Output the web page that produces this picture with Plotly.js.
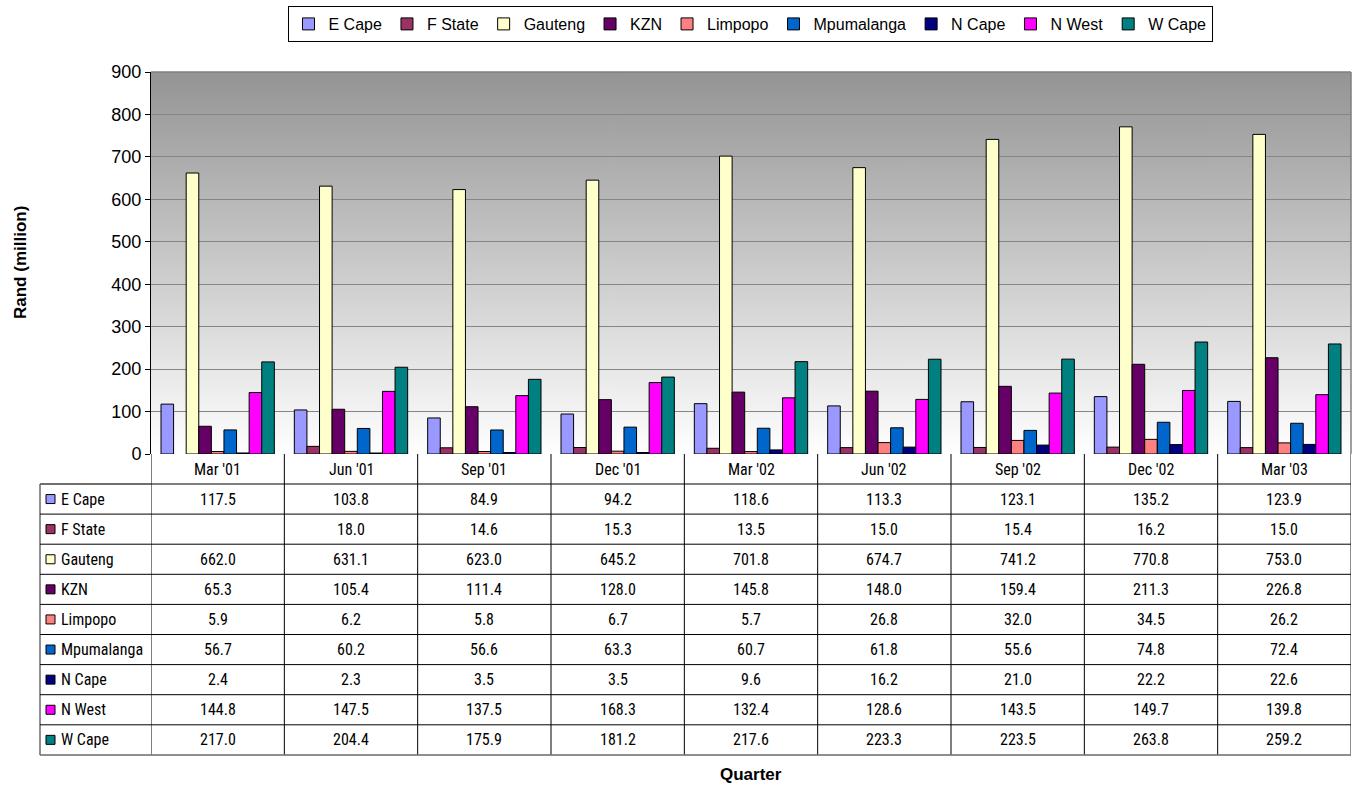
<!DOCTYPE html>
<html>
<head>
<meta charset="utf-8">
<script src="https://cdn.plot.ly/plotly-3.0.1.min.js"></script>
<style>html,body{margin:0;padding:0;background:#fff;}#chart{width:1356px;height:785px;}</style>
</head>
<body>
<div id="chart"></div>
<script>
const quarters = ["Mar '01","Jun '01","Sep '01","Dec '01","Mar '02","Jun '02","Sep '02","Dec '02","Mar '03"];
const provinces = ["E Cape","F State","Gauteng","KZN","Limpopo","Mpumalanga","N Cape","N West","W Cape"];
const eCape      = [117.5,103.8,84.9,94.2,118.6,113.3,123.1,135.2,123.9];
const fState     = [null,18.0,14.6,15.3,13.5,15.0,15.4,16.2,15.0];
const gauteng    = [662.0,631.1,623.0,645.2,701.8,674.7,741.2,770.8,753.0];
const kzn        = [65.3,105.4,111.4,128.0,145.8,148.0,159.4,211.3,226.8];
const limpopo    = [5.9,6.2,5.8,6.7,5.7,26.8,32.0,34.5,26.2];
const mpumalanga = [56.7,60.2,56.6,63.3,60.7,61.8,55.6,74.8,72.4];
const nCape      = [2.4,2.3,3.5,3.5,9.6,16.2,21.0,22.2,22.6];
const nWest      = [144.8,147.5,137.5,168.3,132.4,128.6,143.5,149.7,139.8];
const wCape      = [217.0,204.4,175.9,181.2,217.6,223.3,223.5,263.8,259.2];
const yTicks     = [0,100,200,300,400,500,600,700,800,900];

const series = [eCape,fState,gauteng,kzn,limpopo,mpumalanga,nCape,nWest,wCape];
const colors = ['#9999FF','#993366','#FFFFCC','#660066','#FF8080','#0066CC','#000080','#FF00FF','#008080'];

const W = 1356, H = 785, ML = 151, MR = 5, MT = 72, MB = 331;
const PW = W - ML - MR, PH = H - MT - MB;
const px2x = px => (px - ML) / PW;
const py2y = py => (H - MB - py) / PH;

const FONT = 'Liberation Sans, Arial, sans-serif';
const NARROW = 'Roboto Condensed, Liberation Sans, Arial, sans-serif';
const TSIZE = 16;

const traces = provinces.map((p, i) => ({
  type: 'bar', name: p, x: quarters, y: series[i],
  marker: {color: colors[i], line: {color: '#000', width: 1}},
  hoverinfo: 'x+y+name'
}));

// gradient background image
const cv = document.createElement('canvas');
cv.width = 4; cv.height = 400;
const ctx = cv.getContext('2d');
const g = ctx.createLinearGradient(0, 0, 0, 400);
g.addColorStop(0, '#949494');
g.addColorStop(1, '#ffffff');
ctx.fillStyle = g; ctx.fillRect(0, 0, 4, 400);

// table geometry
const headTop = 454, tableTop = 484, rowH = 30.1, nRows = provinces.length;
const tableBottom = tableTop + rowH * nRows;
const leftCol = 40;

const shapes = [];
const annotations = [];

// plot border (top & right gray)
shapes.push({type:'line', xref:'paper', yref:'paper', x0:0, x1:1, y0:1, y1:1, line:{color:'#7f7f7f', width:1.5}});
shapes.push({type:'line', xref:'paper', yref:'paper', x0:1, x1:1, y0:0, y1:1, line:{color:'#7f7f7f', width:1.5}});

// vertical table lines at category boundaries
for (let i = 0; i <= quarters.length; i++) {
  const outer = (i === quarters.length);
  shapes.push({type:'line', xref:'x', yref:'paper', x0:i-0.5, x1:i-0.5,
    y0: py2y(headTop), y1: py2y(tableBottom),
    line:{color: outer ? '#6a6a6a' : '#000', width: outer ? 1.5 : 1}});
}
// left column outer line
shapes.push({type:'line', xref:'paper', yref:'paper', x0:px2x(leftCol), x1:px2x(leftCol),
  y0:py2y(tableTop), y1:py2y(tableBottom), line:{color:'#6a6a6a', width:1.5}});
// horizontal lines
for (let r = 0; r <= nRows; r++) {
  const yy = py2y(tableTop + r * rowH);
  const outer = (r === nRows);
  shapes.push({type:'line', xref:'paper', yref:'paper', x0:px2x(leftCol), x1:1, y0:yy, y1:yy,
    line:{color: outer ? '#6a6a6a' : '#000', width: outer ? 1.5 : 1}});
}
shapes.push({type:'line', xref:'paper', yref:'paper', x0:px2x(leftCol), x1:0, y0:py2y(tableTop), y1:py2y(tableTop),
  line:{color:'#6a6a6a', width:1.5}});

// row labels with colour keys + values
provinces.forEach((p, r) => {
  const cy = py2y(tableTop + (r + 0.5) * rowH);
  shapes.push({type:'rect', xref:'paper', yref:'paper', xsizemode:'pixel', ysizemode:'pixel',
    xanchor: px2x(50.5), yanchor: cy, x0:-4.5, x1:4.5, y0:-4.5, y1:4.5,
    fillcolor: colors[r], line:{color:'#000', width:1}});
  annotations.push({xref:'paper', yref:'paper', x: px2x(59), y: cy, xanchor:'left', yanchor:'middle',
    text: p, showarrow:false, font:{family:NARROW, size:TSIZE, color:'#000'}});
  series[r].forEach((v, c) => {
    if (v === null) return;
    annotations.push({xref:'x', yref:'paper', x: quarters[c], y: cy, xanchor:'center', yanchor:'middle',
      text: v.toFixed(1), showarrow:false, font:{family:NARROW, size:TSIZE, color:'#000'}});
  });
});

// category header labels
quarters.forEach(q => {
  annotations.push({xref:'x', yref:'paper', x:q, y: py2y((headTop + tableTop) / 2), xanchor:'center', yanchor:'middle',
    text:q, showarrow:false, font:{family:NARROW, size:TSIZE, color:'#000'}});
});

// axis titles
annotations.push({xref:'paper', yref:'paper', x: px2x(20), y: 0.5, textangle:-90, xanchor:'center', yanchor:'middle',
  text:'<b>Rand (million)</b>', showarrow:false, font:{family:FONT, size:17, color:'#000'}});
annotations.push({xref:'paper', yref:'paper', x: px2x(751), y: py2y(774), xanchor:'center', yanchor:'middle',
  text:'<b>Quarter</b>', showarrow:false, font:{family:FONT, size:17, color:'#000'}});

const layout = {
  width: W, height: H,
  margin: {l: ML, r: MR, t: MT, b: MB, pad: 0},
  paper_bgcolor: '#fff', plot_bgcolor: 'rgba(0,0,0,0)',
  barmode: 'group', bargap: 0.15, bargroupgap: 0,
  font: {family: FONT, color: '#000'},
  showlegend: true,
  legend: {orientation:'h', x: px2x(750), xanchor:'center', y: py2y(6), yanchor:'top',
    bordercolor:'#000', borderwidth:1, bgcolor:'#fff', font:{family:FONT, size:16, color:'#000'},
    itemwidth:30, traceorder:'normal'},
  xaxis: {type:'category', showticklabels:false, ticks:'', showgrid:false, zeroline:false,
    showline:false, range:[-0.5, quarters.length - 0.5], fixedrange:true},
  yaxis: {range:[0, 900], tickvals: yTicks, ticktext: yTicks.map(String), ticks:'outside', ticklen:5, tickcolor:'#000',
    showline:true, linecolor:'#000', linewidth:1, showgrid:true, gridcolor:'#858585', gridwidth:1,
    zeroline:false, tickfont:{family:FONT, size:18, color:'#000'}, fixedrange:true},
  images: [{source: cv.toDataURL(), xref:'paper', yref:'paper', x:0, y:1, sizex:1, sizey:1,
    sizing:'stretch', xanchor:'left', yanchor:'top', layer:'below'}],
  shapes: shapes,
  annotations: annotations
};

Plotly.newPlot('chart', traces, layout, {displayModeBar:false, staticPlot:true});
</script>
</body>
</html>
